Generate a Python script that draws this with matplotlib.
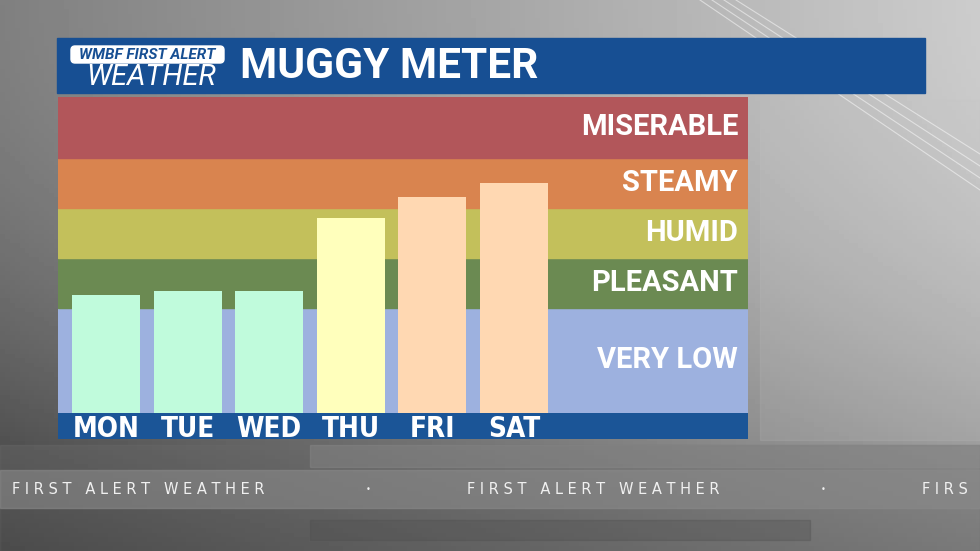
import numpy as np
import matplotlib.pyplot as plt
from matplotlib.patches import Rectangle, FancyBboxPatch

# muggy meter data (dew point style scale)
days = ["MON", "TUE", "WED", "THU", "FRI", "SAT"]
values = [56.3, 56.7, 56.7, 64.0, 66.1, 67.5]
bar_colors = ["#c0fbdc", "#c0fbdc", "#c0fbdc", "#ffffbc", "#ffd8b2", "#ffd8b2"]

band_names = ["VERY LOW", "PLEASANT", "HUMID", "STEAMY", "MISERABLE"]
band_edges = [44.5, 55, 60, 65, 70, 76.1]
band_colors = ["#9db1df", "#6b8a52", "#c3c05b", "#d9844f", "#b2565a"]

W, H = 980, 551
fig = plt.figure(figsize=(W / 100, H / 100), dpi=100)

# ---- background (pixel coordinates) ----
bg = fig.add_axes([0, 0, 1, 1])
bg.set_xlim(0, W)
bg.set_ylim(H, 0)
bg.axis("off")
gx = np.linspace(0, 1, 200)
gy = np.linspace(0, 1, 120)[:, None]
shade = 0.50 + 0.30 * gx[None, :] - 0.28 * gy ** 2
bg.imshow(shade, cmap="gray", vmin=0, vmax=1, extent=[0, W, H, 0], aspect="auto", zorder=0)
bg.add_patch(Rectangle((0, 445), W, 106, color="#6a6a6a", alpha=0.4, zorder=1))
bg.add_patch(Rectangle((0, 470), W, 38, color="#8a8a8a", alpha=0.6, zorder=1))
bg.add_patch(Rectangle((310, 445), 670, 22, color="#8d8d8d", alpha=0.4, zorder=1))
bg.add_patch(Rectangle((310, 520), 500, 20, color="#4c4c4c", alpha=0.3, zorder=1))
bg.add_patch(Rectangle((760, 100), 220, 340, color="#c6c6c6", alpha=0.15, zorder=1))
for k in range(4):
    bg.plot([700 + 12 * k, 980], [0, 190 - 12 * k], color="white", lw=0.8, alpha=0.5, zorder=1)

ticker = "F I R S T   A L E R T   W E A T H E R"
for x0 in [12, 467]:
    bg.text(x0, 489, ticker, color="#f0f0f0", fontsize=10.5, family="DejaVu Sans",
            va="center", ha="left", zorder=2)
bg.text(922, 489, "F I R S", color="#f0f0f0", fontsize=10.5, family="DejaVu Sans",
        va="center", ha="left", zorder=2)
for xd in [368, 823]:
    bg.text(xd, 489, "•", color="#f0f0f0", fontsize=6, va="center", ha="center", zorder=2)

# header bar
bg.add_patch(Rectangle((57, 38), 868, 55, color="#174f93", zorder=3))
bg.add_patch(FancyBboxPatch((71, 46), 153, 17, boxstyle="round,pad=0,rounding_size=4",
                            color="white", zorder=4))
bg.text(147, 55, "WMBF FIRST ALERT", color="#174f93", fontsize=11, fontweight="bold",
        style="italic", family="Roboto", ha="center", va="center", zorder=5)
bg.text(151, 77, "WEATHER", color="white", fontsize=21, style="italic",
        family="Roboto", ha="center", va="center", zorder=5)
bg.text(240, 66, "MUGGY METER", color="white", fontsize=30.5, fontweight="bold",
        family="Roboto", ha="left", va="center", zorder=5)

# ---- chart ----
ax = fig.add_axes([58 / W, (H - 413) / H, 690 / W, 316 / H])
ax.set_xlim(-0.59, 7.87)
ax.set_ylim(band_edges[0], band_edges[-1])
for i, name in enumerate(band_names):
    ax.axhspan(band_edges[i], band_edges[i + 1], color=band_colors[i], zorder=0)
    yc = (band_edges[i] + band_edges[i + 1]) / 2
    ax.text(7.75, yc, name, color="white", fontsize=21, fontweight="bold",
            family="Roboto", ha="right", va="center", zorder=3)
ax.bar(range(len(days)), [v - band_edges[0] for v in values], bottom=band_edges[0],
       width=0.835, color=bar_colors, zorder=2)
ax.axis("off")

axd = fig.add_axes([58 / W, (H - 439) / H, 690 / W, 26 / H], sharex=ax)
axd.set_facecolor("#1b5597")
axd.set_ylim(0, 1)
for s in axd.spines.values():
    s.set_visible(False)
axd.set_xticks([])
axd.set_yticks([])
for i, d in enumerate(days):
    axd.text(i, 0.38, d, color="white", fontsize=20, fontweight="bold",
             family="DejaVu Sans", fontstretch="condensed", ha="center", va="center")

fig.savefig("out.png", dpi=100)
